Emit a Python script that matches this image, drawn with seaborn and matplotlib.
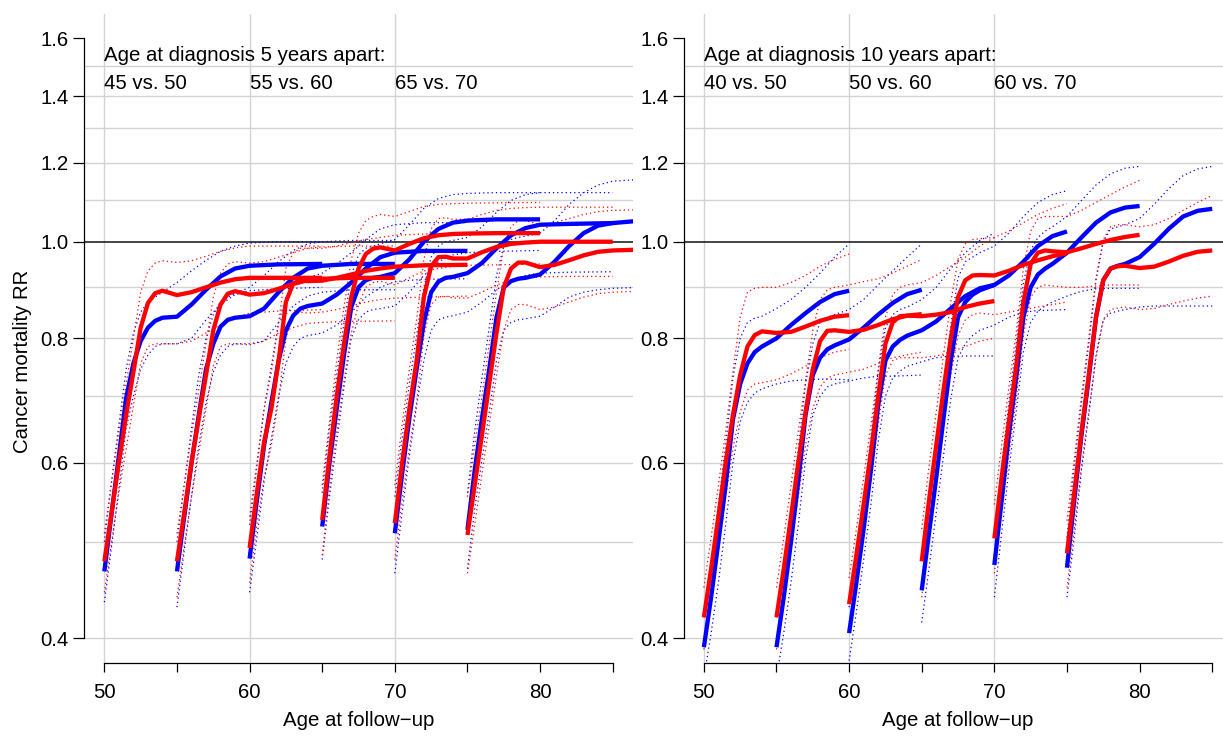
import numpy as np
import matplotlib
matplotlib.use("Agg")
import matplotlib.pyplot as plt
import seaborn as sns

# follow-up years after the start age, one point per entry in the series below
left_years = [0, 0.5, 1, 1.5, 2, 2.5, 3, 3.5, 4, 5, 6, 7, 8, 9, 10, 12, 15]
right_years = [0, 0.5, 1, 1.5, 2, 2.5, 3, 3.5, 4, 5, 6, 7, 8, 9, 10]
start_ages = [50, 55, 60, 65, 70, 75]

# left panel: age at diagnosis 5 years apart
left_blue_est = [
    [0.467, 0.534, 0.61, 0.697, 0.755, 0.795, 0.82, 0.833, 0.839, 0.841, 0.865, 0.895, 0.923, 0.94, 0.946, 0.949, 0.95],
    [0.467, 0.53, 0.60, 0.67, 0.745, 0.79, 0.822, 0.835, 0.839, 0.842, 0.857, 0.89, 0.92, 0.94, 0.946, 0.95, 0.95],
    [0.481, 0.55, 0.625, 0.69, 0.76, 0.815, 0.843, 0.857, 0.862, 0.867, 0.885, 0.91, 0.94, 0.965, 0.975, 0.979, 0.979],
    [0.518, 0.6, 0.68, 0.77, 0.86, 0.9, 0.915, 0.92, 0.922, 0.93, 0.96, 1.0, 1.03, 1.045, 1.05, 1.053, 1.053],
    [0.51, 0.585, 0.665, 0.745, 0.83, 0.89, 0.912, 0.92, 0.922, 0.93, 0.952, 0.985, 1.015, 1.032, 1.04, 1.042, 1.044],
    [0.514, 0.59, 0.665, 0.745, 0.84, 0.9, 0.913, 0.918, 0.92, 0.927, 0.955, 0.99, 1.02, 1.038, 1.044, 1.05],
]
left_blue_lo = [
    [0.435, 0.495, 0.565, 0.65, 0.70, 0.745, 0.77, 0.785, 0.79, 0.79, 0.80, 0.835, 0.865, 0.885, 0.893, 0.897, 0.9],
    [0.43, 0.49, 0.555, 0.625, 0.69, 0.74, 0.77, 0.785, 0.79, 0.79, 0.795, 0.83, 0.862, 0.882, 0.89, 0.895, 0.895],
    [0.445, 0.505, 0.575, 0.635, 0.70, 0.755, 0.785, 0.8, 0.805, 0.81, 0.825, 0.85, 0.88, 0.9, 0.912, 0.917, 0.918],
    [0.48, 0.555, 0.63, 0.715, 0.8, 0.835, 0.85, 0.855, 0.857, 0.862, 0.89, 0.925, 0.955, 0.97, 0.975, 0.978, 0.98],
    [0.465, 0.535, 0.61, 0.685, 0.76, 0.815, 0.835, 0.84, 0.843, 0.85, 0.87, 0.895, 0.915, 0.925, 0.93, 0.932, 0.933],
    [0.47, 0.54, 0.605, 0.675, 0.76, 0.815, 0.83, 0.835, 0.837, 0.842, 0.86, 0.88, 0.89, 0.895, 0.898, 0.9],
]
left_blue_hi = [
    [0.50, 0.575, 0.655, 0.745, 0.81, 0.85, 0.87, 0.88, 0.89, 0.91, 0.935, 0.958, 0.978, 0.99, 0.997, 1.0, 1.0],
    [0.50, 0.57, 0.65, 0.735, 0.80, 0.845, 0.87, 0.88, 0.887, 0.9, 0.925, 0.955, 0.98, 0.995, 1.0, 1.003, 1.003],
    [0.52, 0.595, 0.68, 0.75, 0.83, 0.88, 0.905, 0.915, 0.92, 0.93, 0.95, 0.975, 1.005, 1.03, 1.04, 1.045, 1.045],
    [0.56, 0.65, 0.735, 0.83, 0.925, 0.97, 0.985, 0.99, 0.995, 1.005, 1.04, 1.08, 1.105, 1.115, 1.118, 1.12, 1.12],
    [0.555, 0.635, 0.72, 0.805, 0.9, 0.965, 0.99, 1.0, 1.003, 1.01, 1.035, 1.07, 1.1, 1.115, 1.12, 1.12, 1.12],
    [0.56, 0.645, 0.73, 0.82, 0.925, 0.99, 1.005, 1.01, 1.013, 1.02, 1.05, 1.09, 1.12, 1.14, 1.15, 1.155],
]
left_red_est = [
    [0.478, 0.535, 0.60, 0.67, 0.74, 0.82, 0.868, 0.888, 0.893, 0.884, 0.89, 0.90, 0.91, 0.917, 0.92, 0.92, 0.92],
    [0.478, 0.535, 0.60, 0.665, 0.735, 0.815, 0.865, 0.887, 0.892, 0.885, 0.888, 0.897, 0.907, 0.915, 0.918, 0.92, 0.92],
    [0.493, 0.56, 0.63, 0.68, 0.76, 0.87, 0.908, 0.915, 0.913, 0.914, 0.92, 0.927, 0.935, 0.94, 0.944, 0.947, 0.948],
    [0.526, 0.61, 0.70, 0.79, 0.88, 0.94, 0.972, 0.984, 0.987, 0.98, 0.995, 1.008, 1.015, 1.018, 1.019, 1.02, 1.02],
    [0.522, 0.6, 0.68, 0.76, 0.88, 0.945, 0.965, 0.966, 0.962, 0.962, 0.976, 0.988, 0.995, 0.998, 1.0, 1.0, 1.0],
    [0.508, 0.57, 0.64, 0.72, 0.81, 0.9, 0.94, 0.953, 0.953, 0.943, 0.948, 0.958, 0.969, 0.977, 0.98, 0.982],
]
left_red_lo = [
    [0.445, 0.5, 0.56, 0.62, 0.685, 0.755, 0.785, 0.79, 0.79, 0.79, 0.795, 0.81, 0.825, 0.838, 0.848, 0.852, 0.855],
    [0.44, 0.495, 0.555, 0.615, 0.68, 0.75, 0.785, 0.79, 0.79, 0.788, 0.795, 0.81, 0.82, 0.828, 0.83, 0.832, 0.833],
    [0.455, 0.52, 0.58, 0.625, 0.695, 0.80, 0.845, 0.85, 0.848, 0.85, 0.855, 0.862, 0.87, 0.875, 0.878, 0.88, 0.882],
    [0.485, 0.565, 0.645, 0.725, 0.81, 0.865, 0.9, 0.91, 0.913, 0.905, 0.92, 0.935, 0.94, 0.945, 0.947, 0.948, 0.95],
    [0.48, 0.55, 0.62, 0.69, 0.805, 0.865, 0.88, 0.882, 0.878, 0.878, 0.89, 0.905, 0.915, 0.92, 0.922, 0.923, 0.923],
    [0.465, 0.52, 0.585, 0.655, 0.735, 0.815, 0.855, 0.865, 0.865, 0.855, 0.86, 0.87, 0.88, 0.887, 0.89, 0.892],
]
left_red_hi = [
    [0.51, 0.575, 0.645, 0.72, 0.80, 0.89, 0.935, 0.952, 0.957, 0.953, 0.957, 0.967, 0.978, 0.986, 0.99, 0.99, 0.99],
    [0.51, 0.57, 0.64, 0.71, 0.79, 0.88, 0.93, 0.95, 0.955, 0.952, 0.955, 0.965, 0.975, 0.985, 0.988, 0.99, 0.99],
    [0.53, 0.6, 0.68, 0.74, 0.83, 0.94, 0.975, 0.985, 0.985, 0.985, 0.99, 0.998, 1.005, 1.01, 1.015, 1.018, 1.02],
    [0.57, 0.66, 0.76, 0.86, 0.96, 1.02, 1.05, 1.06, 1.065, 1.06, 1.072, 1.085, 1.09, 1.092, 1.093, 1.094, 1.095],
    [0.57, 0.655, 0.745, 0.835, 0.96, 1.03, 1.055, 1.057, 1.053, 1.053, 1.065, 1.075, 1.08, 1.082, 1.083, 1.083, 1.083],
    [0.555, 0.625, 0.7, 0.79, 0.89, 0.99, 1.035, 1.05, 1.05, 1.04, 1.045, 1.055, 1.065, 1.072, 1.075, 1.077],
]

# right panel: age at diagnosis 10 years apart
right_blue_est = [
    [0.392, 0.44, 0.50, 0.57, 0.663, 0.72, 0.755, 0.775, 0.785, 0.80, 0.825, 0.848, 0.87, 0.886, 0.893],
    [0.392, 0.44, 0.50, 0.575, 0.67, 0.735, 0.765, 0.78, 0.787, 0.798, 0.82, 0.845, 0.868, 0.886, 0.895],
    [0.405, 0.455, 0.515, 0.59, 0.685, 0.76, 0.785, 0.797, 0.805, 0.815, 0.832, 0.857, 0.882, 0.898, 0.905],
    [0.447, 0.51, 0.58, 0.665, 0.76, 0.84, 0.87, 0.885, 0.894, 0.905, 0.925, 0.955, 0.99, 1.013, 1.024],
    [0.474, 0.55, 0.64, 0.73, 0.84, 0.9, 0.927, 0.94, 0.95, 0.975, 1.01, 1.045, 1.07, 1.082, 1.086],
    [0.471, 0.55, 0.64, 0.73, 0.84, 0.915, 0.94, 0.946, 0.95, 0.965, 0.995, 1.03, 1.06, 1.074, 1.079],
]
right_blue_lo = [
    [0.365, 0.405, 0.455, 0.52, 0.6, 0.66, 0.69, 0.705, 0.712, 0.72, 0.725, 0.727, 0.728, 0.728, 0.727],
    [0.365, 0.405, 0.455, 0.52, 0.605, 0.67, 0.7, 0.715, 0.72, 0.725, 0.73, 0.733, 0.733, 0.734, 0.735],
    [0.38, 0.425, 0.48, 0.545, 0.63, 0.7, 0.73, 0.742, 0.75, 0.758, 0.765, 0.768, 0.768, 0.768, 0.768],
    [0.415, 0.47, 0.535, 0.61, 0.695, 0.765, 0.79, 0.805, 0.815, 0.825, 0.84, 0.85, 0.853, 0.854, 0.855],
    [0.44, 0.51, 0.59, 0.675, 0.775, 0.83, 0.852, 0.862, 0.87, 0.882, 0.892, 0.897, 0.898, 0.898, 0.898],
    [0.44, 0.505, 0.59, 0.67, 0.77, 0.835, 0.848, 0.852, 0.855, 0.86, 0.862, 0.862, 0.862, 0.862, 0.862],
]
right_blue_hi = [
    [0.42, 0.475, 0.545, 0.625, 0.73, 0.8, 0.83, 0.838, 0.842, 0.857, 0.875, 0.9, 0.93, 0.965, 0.995],
    [0.42, 0.475, 0.54, 0.62, 0.72, 0.79, 0.83, 0.84, 0.845, 0.855, 0.875, 0.905, 0.935, 0.965, 0.995],
    [0.43, 0.49, 0.555, 0.635, 0.74, 0.82, 0.845, 0.855, 0.86, 0.875, 0.9, 0.94, 0.975, 1.003, 1.02],
    [0.48, 0.55, 0.625, 0.72, 0.825, 0.92, 0.955, 0.965, 0.975, 0.99, 1.02, 1.06, 1.095, 1.115, 1.125],
    [0.51, 0.595, 0.69, 0.79, 0.91, 0.98, 1.01, 1.025, 1.035, 1.06, 1.1, 1.14, 1.17, 1.185, 1.19],
    [0.505, 0.595, 0.69, 0.79, 0.915, 1.0, 1.03, 1.035, 1.04, 1.055, 1.09, 1.13, 1.165, 1.183, 1.19],
]
right_red_est = [
    [0.42, 0.47, 0.53, 0.60, 0.67, 0.735, 0.785, 0.806, 0.813, 0.81, 0.812, 0.822, 0.833, 0.841, 0.844],
    [0.42, 0.47, 0.53, 0.60, 0.675, 0.745, 0.795, 0.814, 0.815, 0.812, 0.816, 0.825, 0.836, 0.843, 0.846],
    [0.433, 0.485, 0.545, 0.615, 0.70, 0.79, 0.83, 0.842, 0.843, 0.842, 0.845, 0.85, 0.86, 0.867, 0.872],
    [0.478, 0.55, 0.625, 0.71, 0.80, 0.88, 0.915, 0.925, 0.926, 0.925, 0.935, 0.948, 0.958, 0.967, 0.974],
    [0.504, 0.58, 0.66, 0.75, 0.87, 0.95, 0.975, 0.98, 0.978, 0.976, 0.985, 0.995, 1.004, 1.011, 1.016],
    [0.487, 0.56, 0.645, 0.735, 0.84, 0.915, 0.94, 0.945, 0.946, 0.941, 0.944, 0.955, 0.968, 0.977, 0.98],
]
right_red_lo = [
    [0.39, 0.435, 0.49, 0.555, 0.62, 0.675, 0.71, 0.72, 0.722, 0.727, 0.737, 0.75, 0.765, 0.775, 0.78],
    [0.39, 0.435, 0.49, 0.555, 0.625, 0.68, 0.715, 0.73, 0.735, 0.74, 0.745, 0.755, 0.765, 0.77, 0.775],
    [0.405, 0.455, 0.51, 0.575, 0.655, 0.735, 0.76, 0.765, 0.765, 0.765, 0.768, 0.775, 0.785, 0.795, 0.8],
    [0.44, 0.505, 0.575, 0.655, 0.735, 0.805, 0.835, 0.845, 0.848, 0.845, 0.85, 0.855, 0.86, 0.865, 0.87],
    [0.465, 0.535, 0.61, 0.695, 0.805, 0.88, 0.9, 0.905, 0.903, 0.9, 0.9, 0.903, 0.905, 0.905, 0.905],
    [0.45, 0.515, 0.595, 0.675, 0.765, 0.835, 0.855, 0.858, 0.86, 0.855, 0.857, 0.865, 0.872, 0.878, 0.882],
]
right_red_hi = [
    [0.45, 0.505, 0.57, 0.645, 0.74, 0.84, 0.89, 0.898, 0.9, 0.9, 0.91, 0.925, 0.945, 0.96, 0.972],
    [0.45, 0.505, 0.57, 0.645, 0.725, 0.815, 0.875, 0.895, 0.9, 0.905, 0.912, 0.918, 0.93, 0.945, 0.96],
    [0.46, 0.515, 0.58, 0.655, 0.745, 0.84, 0.885, 0.9, 0.905, 0.91, 0.925, 0.945, 0.965, 0.99, 1.01],
    [0.515, 0.595, 0.675, 0.77, 0.87, 0.96, 0.995, 1.005, 1.007, 1.01, 1.025, 1.045, 1.065, 1.08, 1.092],
    [0.545, 0.625, 0.715, 0.81, 0.94, 1.025, 1.055, 1.06, 1.06, 1.06, 1.075, 1.095, 1.115, 1.135, 1.152],
    [0.525, 0.605, 0.7, 0.8, 0.92, 1.005, 1.035, 1.04, 1.04, 1.035, 1.04, 1.055, 1.075, 1.095, 1.113],
]

left_pairs = ["45 vs. 50", "55 vs. 60", "65 vs. 70"]
right_pairs = ["40 vs. 50", "50 vs. 60", "60 vs. 70"]
pair_x = [50, 60, 70]
y_ticks = [0.4, 0.6, 0.8, 1.0, 1.2, 1.4, 1.6]
y_grid = [0.4, 0.5, 0.6, 0.7, 0.8, 0.9, 1.1, 1.2, 1.3, 1.4, 1.5]
x_ticks = [50, 55, 60, 65, 70, 75, 80, 85]

sns.set_theme(style="white")
plt.rcParams["font.family"] = ["Liberation Sans", "DejaVu Sans"]
plt.rcParams["text.color"] = "black"
plt.rcParams["axes.labelcolor"] = "black"
plt.rcParams["xtick.color"] = "black"
plt.rcParams["ytick.color"] = "black"
FS = 14.7


def draw_panel(ax, years, blue, red, title, pairs):
    # confidence limits first, dotted
    for colour, (est, lo, hi) in (("blue", blue), ("red", red)):
        for s, l, h in zip(start_ages, lo, hi):
            for band in (l, h):
                ages = s + np.array(years[:len(band)])
                sns.lineplot(x=ages, y=band, ax=ax, color=colour, lw=0.9,
                             linestyle=(0, (1, 2.4)), estimator=None, zorder=3)
    for colour, (est, lo, hi) in (("blue", blue), ("red", red)):
        for s, e in zip(start_ages, est):
            ages = s + np.array(years[:len(e)])
            sns.lineplot(x=ages, y=e, ax=ax, color=colour, lw=3.1,
                         estimator=None, zorder=4, solid_capstyle="butt")

    for g in y_grid:
        ax.axhline(g, color="#d3d3d3", lw=1.0, zorder=1)
    for g in pair_x:
        ax.axvline(g, color="#d3d3d3", lw=1.0, zorder=1)
    ax.axhline(1.0, color="#111111", lw=1.1, zorder=2)

    ax.set_yscale("log")
    ax.set_ylim(0.378, 1.692)
    ax.set_xlim(48.6, 86.4)
    ax.set_yticks(y_ticks)
    ax.set_yticklabels([f"{v:.1f}" for v in y_ticks])
    ax.yaxis.set_minor_locator(matplotlib.ticker.NullLocator())
    ax.set_xticks(x_ticks)
    ax.set_xticklabels([str(v) if v % 10 == 0 else "" for v in x_ticks])
    ax.tick_params(axis="y", direction="out", length=8, width=0.9, pad=3,
                   labelsize=FS, color="black", labelcolor="black", left=True)
    ax.tick_params(axis="x", direction="out", length=6.5, width=0.9, pad=8,
                   labelsize=FS, color="black", labelcolor="black", bottom=True)
    for side in ("top", "right"):
        ax.spines[side].set_visible(False)
    ax.spines["left"].set_bounds(0.4, 1.6)
    ax.spines["bottom"].set_bounds(50, 85)
    for side in ("left", "bottom"):
        ax.spines[side].set_color("black")
        ax.spines[side].set_linewidth(0.9)
    ax.grid(False)

    ax.text(50, 1.518, title, ha="left", va="baseline", fontsize=FS, color="black")
    for px, lab in zip(pair_x, pairs):
        ax.text(px, 1.422, lab, ha="left", va="baseline", fontsize=FS, color="black")

    ax.set_xlabel("Age at follow\u2212up", fontsize=FS, color="black")
    ax.xaxis.set_label_coords(0.5, -0.074)
    ax.set_ylabel("")


fig = plt.figure(figsize=(12.23, 7.36), dpi=100)
ax_l = fig.add_axes([0.0687, 0.0992, 0.4489, 0.8818])
ax_r = fig.add_axes([0.5589, 0.0992, 0.4489, 0.8818])

draw_panel(ax_l, left_years,
           (left_blue_est, left_blue_lo, left_blue_hi),
           (left_red_est, left_red_lo, left_red_hi),
           "Age at diagnosis 5 years apart:", left_pairs)
draw_panel(ax_r, right_years,
           (right_blue_est, right_blue_lo, right_blue_hi),
           (right_red_est, right_red_lo, right_red_hi),
           "Age at diagnosis 10 years apart:", right_pairs)

ax_l.set_ylabel("Cancer mortality RR", fontsize=FS, color="black")
ax_l.yaxis.set_label_coords(-0.095, 0.465)

fig.savefig("out.png", dpi=100)
